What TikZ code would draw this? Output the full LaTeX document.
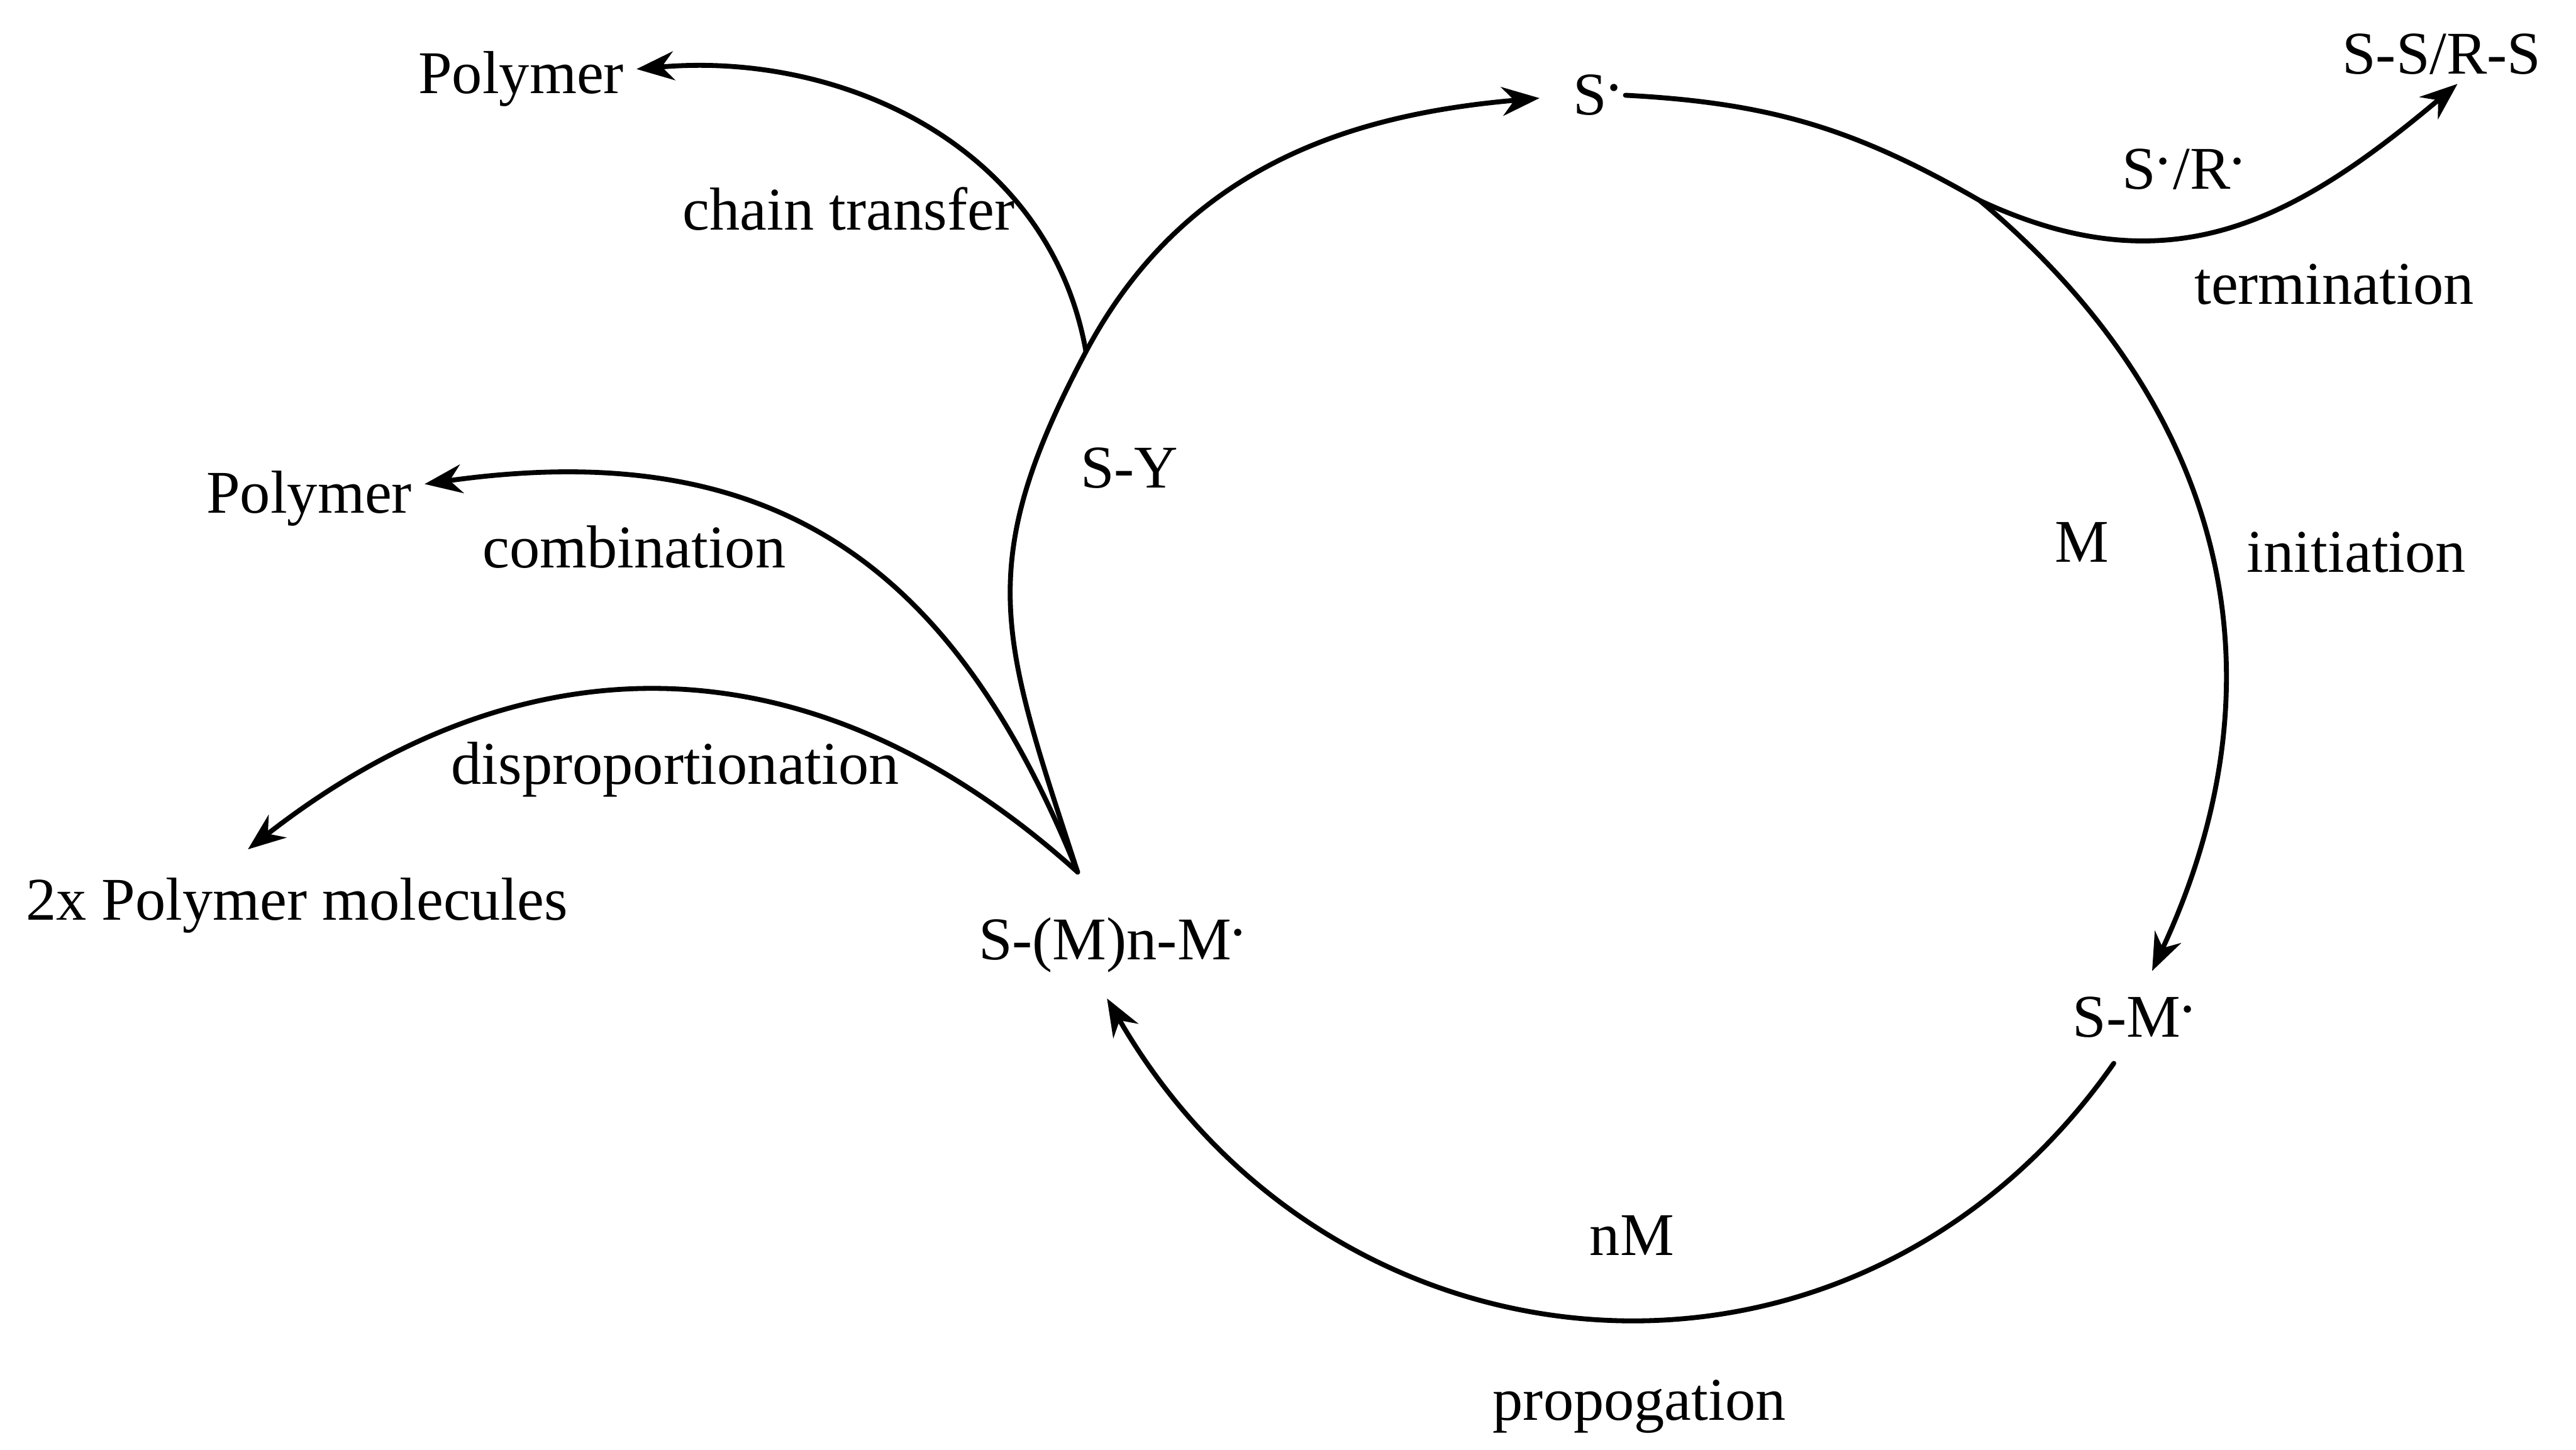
\documentclass[tikz,border=0pt]{standalone}
\usepackage{fontspec}
\setmainfont{Liberation Serif}
\usetikzlibrary{arrows.meta, positioning}
\newcommand{\rdot}{\kern-0.05em\raisebox{0.12em}{\textperiodcentered}}

\begin{document}
\begin{tikzpicture}[
  txt/.style={inner sep=0pt, anchor=base west, font=\fontsize{10.5pt}{12pt}\selectfont},
  species/.style={txt, inner sep=1.5mm},
  product/.style={txt, inner sep=0.7mm},
  flow/.style={line width=0.85pt, line cap=round},
  arr/.style={flow, -{Stealth[length=6.5pt, width=5pt]}}
]
  \useasboundingbox (0,0) rectangle (15.68,8.82);
  % species on the cycle
  \node[species, inner xsep=0pt] (sdot) at (9.57,8.12) {S\rdot};
  \node[species] (sm) at (12.46,2.51) {S-M\rdot};
  \node[species] (chain) at (5.80,2.98) {S-(M)n-M\rdot};
  \node[txt] (sy) at (6.57,5.85) {S-Y};
  \node[txt] (mono) at (12.50,5.40) {M};
  \node[txt] (nm) at (9.67,1.18) {nM};
  % step names
  \node[txt] (init) at (13.67,5.34) {initiation};
  \node[txt] (prop) at (9.08,0.18) {propogation};
  \node[txt] (term) at (13.35,6.97) {termination};
  \node[txt] (srdot) at (12.91,7.67) {S\rdot/R\rdot};
  \node[txt] (ctrans) at (4.15,7.42) {chain transfer};
  \node[txt] (comb) at (2.93,5.365) {combination};
  \node[txt] (disp) at (2.74,4.05) {disproportionation};
  % products
  \node[product, inner sep=0.5mm] (ssrs) at (14.20,8.37) {S-S/R-S};
  \node[product] (polyA) at (2.47,8.25) {Polymer};
  \node[product] (polyB) at (1.18,5.70) {Polymer};
  \node[product] (twox) at (0.08,3.22) {2x Polymer molecules};

  \coordinate[above=1.2mm of chain.124] (fork);
  \coordinate (jT) at (12.05,7.60);
  \coordinate (jC) at (6.61,6.68);

  % cycle
  \draw[arr] (sdot.east) to[out=-3,in=150] (jT) to[out=-40,in=65,looseness=1.05] (sm.70);
  \draw[arr] (sm.245) to[out=235,in=-60,looseness=1.15] (chain.-97);
  \draw[arr, shorten >=2mm] (fork) to[out=108,in=-118,looseness=1.2] (jC) to[out=62,in=185] (sdot.west);
  % side reactions
  \draw[arr] (jT) to[out=-25,in=-140,looseness=1.1] (ssrs.-62);
  \draw[arr] (jC) to[out=100,in=5] (polyA.5);
  \draw[arr] (fork) to[out=112,in=8,out looseness=1.1,in looseness=1.2] (polyB.7);
  \draw[arr, shorten >=1.6mm] (fork) to[out=138,in=38,looseness=1.1] (twox.150);
\end{tikzpicture}
\end{document}
